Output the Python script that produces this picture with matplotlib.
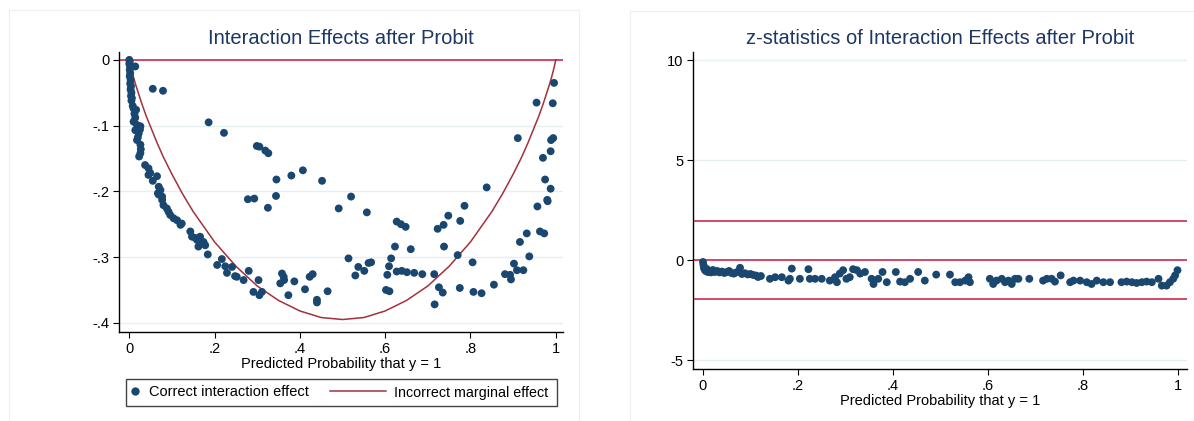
import matplotlib
matplotlib.use('Agg')
import matplotlib.pyplot as plt
from matplotlib.lines import Line2D
from matplotlib.patches import Rectangle

plt.rcParams['font.family'] = ['Liberation Sans', 'DejaVu Sans']

# ----------------------------------------------
# dados

# painel 1: efeito de interação correto (prob. prevista, efeito)
p_ie = [0.000, 0.001, 0.000, 0.002, 0.001, 0.014, 0.002, 0.001, 0.003, 0.002,
        0.004, 0.003, 0.005, 0.004, 0.006, 0.005, 0.008, 0.010, 0.016, 0.012,
        0.014, 0.010, 0.018, 0.026, 0.014, 0.022, 0.025, 0.020, 0.018, 0.026,
        0.027, 0.026, 0.023, 0.055, 0.079, 0.037, 0.045, 0.049, 0.045, 0.065,
        0.055, 0.069, 0.073, 0.067, 0.077, 0.069, 0.077, 0.080, 0.088, 0.092,
        0.096, 0.104, 0.112, 0.120, 0.123, 0.143, 0.147, 0.155, 0.159, 0.162,
        0.166, 0.174, 0.178, 0.184, 0.206, 0.217, 0.225, 0.229, 0.241, 0.248,
        0.252, 0.268, 0.280, 0.291, 0.303, 0.305, 0.311, 0.186, 0.222, 0.299,
        0.305, 0.319, 0.326, 0.278, 0.293, 0.325, 0.345, 0.380, 0.407, 0.452,
        0.344, 0.520, 0.491, 0.557, 0.627, 0.637, 0.648, 0.623, 0.660, 0.514,
        0.614, 0.537, 0.561, 0.567, 0.609, 0.551, 0.530, 0.627, 0.639, 0.651,
        0.668, 0.605, 0.602, 0.610, 0.358, 0.362, 0.354, 0.363, 0.387, 0.373,
        0.412, 0.423, 0.430, 0.440, 0.440, 0.465, 0.996, 0.955, 0.993, 0.911,
        0.989, 0.994, 0.988, 0.970, 0.975, 0.988, 0.838, 0.980, 0.786, 0.748,
        0.776, 0.723, 0.737, 0.738, 0.770, 0.805, 0.687, 0.715, 0.726, 0.735,
        0.716, 0.775, 0.807, 0.826, 0.855, 0.881, 0.893, 0.895, 0.902, 0.909,
        0.924, 0.938, 0.916, 0.932, 0.963, 0.973, 0.957, 0.981]
ie = [0.000, -0.003, -0.006, -0.010, -0.015, -0.010, -0.020, -0.025, -0.030, -0.036,
      -0.040, -0.045, -0.050, -0.055, -0.058, -0.062, -0.070, -0.074, -0.076, -0.082,
      -0.088, -0.094, -0.099, -0.101, -0.107, -0.112, -0.106, -0.118, -0.122, -0.129,
      -0.136, -0.142, -0.147, -0.044, -0.047, -0.160, -0.165, -0.172, -0.175, -0.177,
      -0.184, -0.193, -0.198, -0.203, -0.208, -0.205, -0.213, -0.221, -0.226, -0.231,
      -0.236, -0.241, -0.244, -0.251, -0.249, -0.261, -0.269, -0.271, -0.274, -0.284,
      -0.269, -0.277, -0.282, -0.296, -0.312, -0.303, -0.314, -0.324, -0.315, -0.329,
      -0.330, -0.335, -0.321, -0.353, -0.335, -0.358, -0.353, -0.095, -0.111, -0.131,
      -0.132, -0.138, -0.142, -0.212, -0.211, -0.225, -0.182, -0.176, -0.168, -0.184,
      -0.207, -0.208, -0.226, -0.232, -0.246, -0.250, -0.254, -0.284, -0.288, -0.302,
      -0.302, -0.315, -0.309, -0.308, -0.314, -0.321, -0.328, -0.322, -0.321, -0.323,
      -0.324, -0.327, -0.350, -0.352, -0.325, -0.330, -0.340, -0.335, -0.337, -0.358,
      -0.349, -0.330, -0.326, -0.365, -0.369, -0.352, -0.035, -0.065, -0.066, -0.119,
      -0.122, -0.119, -0.139, -0.149, -0.182, -0.196, -0.194, -0.213, -0.222, -0.237,
      -0.245, -0.257, -0.251, -0.284, -0.297, -0.308, -0.326, -0.326, -0.346, -0.354,
      -0.372, -0.347, -0.353, -0.355, -0.342, -0.326, -0.327, -0.334, -0.310, -0.320,
      -0.320, -0.299, -0.277, -0.264, -0.261, -0.264, -0.223, -0.215]

# painel 1: efeito marginal incorreto (curva)
p_me = [0.000, 0.001, 0.003, 0.006, 0.010, 0.015, 0.020, 0.030, 0.040, 0.050,
        0.065, 0.080, 0.100, 0.125, 0.150, 0.200, 0.250, 0.300, 0.350, 0.400,
        0.450, 0.500, 0.550, 0.600, 0.650, 0.700, 0.750, 0.800, 0.850, 0.875,
        0.900, 0.920, 0.935, 0.950, 0.960, 0.970, 0.980, 0.985, 0.990, 0.994,
        0.997, 0.999, 1.000]
me = [0.000, -0.003, -0.009, -0.017, -0.027, -0.038, -0.048, -0.068, -0.086, -0.102,
      -0.126, -0.148, -0.174, -0.204, -0.231, -0.277, -0.314, -0.344, -0.366, -0.382,
      -0.392, -0.395, -0.392, -0.382, -0.366, -0.344, -0.314, -0.277, -0.231, -0.204,
      -0.174, -0.148, -0.126, -0.102, -0.086, -0.068, -0.048, -0.038, -0.027, -0.017,
      -0.009, -0.003, 0.000]

# painel 2: estatística z (prob. prevista, z)
p_z = [0.000, 0.001, 0.002, 0.004, 0.006, 0.008, 0.010, 0.013, 0.017, 0.021,
       0.025, 0.030, 0.035, 0.040, 0.045, 0.050, 0.055, 0.060, 0.065, 0.070,
       0.078, 0.082, 0.088, 0.094, 0.100, 0.106, 0.112, 0.116, 0.122, 0.141,
       0.152, 0.166, 0.180, 0.187, 0.183, 0.204, 0.222, 0.225, 0.236, 0.250,
       0.267, 0.282, 0.278, 0.288, 0.295, 0.302, 0.309, 0.316, 0.324, 0.331,
       0.341, 0.355, 0.359, 0.369, 0.378, 0.387, 0.406, 0.415, 0.425, 0.436,
       0.453, 0.467, 0.491, 0.520, 0.531, 0.541, 0.552, 0.562, 0.559, 0.604,
       0.611, 0.618, 0.629, 0.636, 0.643, 0.650, 0.657, 0.664, 0.687, 0.716,
       0.724, 0.734, 0.741, 0.753, 0.773, 0.780, 0.794, 0.808, 0.818, 0.829,
       0.843, 0.857, 0.881, 0.892, 0.903, 0.913, 0.924, 0.934, 0.945, 0.959,
       0.966, 0.976, 0.983, 0.990, 0.994, 0.999]
z = [-0.10, -0.25, -0.40, -0.50, -0.55, -0.45, -0.60, -0.55, -0.62, -0.50,
     -0.60, -0.55, -0.62, -0.58, -0.65, -0.60, -0.55, -0.65, -0.68, -0.62,
     -0.39, -0.70, -0.66, -0.72, -0.70, -0.75, -0.78, -0.85, -0.80, -0.94,
     -0.86, -0.86, -1.03, -0.43, -0.94, -0.94, -0.46, -0.94, -0.94, -0.94,
     -1.03, -1.11, -0.86, -0.68, -0.51, -0.94, -0.86, -0.46, -0.51, -0.68,
     -0.60, -0.94, -1.20, -0.94, -0.60, -1.11, -0.60, -1.08, -1.11, -0.94,
     -0.60, -1.03, -0.73, -0.73, -1.11, -1.11, -1.03, -1.11, -0.86, -0.94,
     -1.20, -1.03, -0.94, -1.11, -1.03, -1.20, -0.94, -0.94, -0.94, -1.03,
     -0.94, -0.94, -1.08, -0.77, -1.11, -1.03, -1.03, -1.11, -1.20, -1.03,
     -1.11, -1.11, -1.11, -1.08, -1.11, -1.15, -1.11, -1.08, -1.11, -0.94,
     -1.28, -1.28, -1.11, -0.94, -0.77, -0.51]

z_crit = [1.96, 0.0, -1.96]

xticks = [0, 0.2, 0.4, 0.6, 0.8, 1]
xticklabels = ['0', '.2', '.4', '.6', '.8', '1']
yticks1 = [0, -0.1, -0.2, -0.3, -0.4]
yticklabels1 = ['0', '-.1', '-.2', '-.3', '-.4']
yticks2 = [10, 5, 0, -5]
yticklabels2 = ['10', '5', '0', '-5']

# ----------------------------------------------
# estilo

azul = '#1a476f'
titulo_cor = '#1c3763'
vermelho = '#cd2a4b'
vinho = '#a2313d'
grade = '#e6eff1'

fig = plt.figure(figsize=(11.94, 4.21), dpi=100)

# bordas suaves das regiões dos gráficos
for (x0, y0, x1, y1) in [(9, 10, 579, 421), (630, 11, 1194, 421)]:
    fig.patches.append(Rectangle((x0 / 1194, 1 - y1 / 421), (x1 - x0) / 1194, (y1 - y0) / 421,
                                 transform=fig.transFigure, fill=False,
                                 edgecolor='#eeeeee', lw=0.8, zorder=0))


def eixo(ax, titulo, yticks, ylabels):
    ax.set_title(titulo, color=titulo_cor, fontsize=14.5, pad=6)
    ax.set_xlabel('Predicted Probability that y = 1', fontsize=10.5, labelpad=1)
    ax.set_xticks(xticks)
    ax.set_xticklabels(xticklabels)
    ax.set_yticks(yticks)
    ax.set_yticklabels(ylabels)
    ax.tick_params(direction='out', length=4, width=0.8, labelsize=10.5, pad=3)
    for s in ['top', 'right']:
        ax.spines[s].set_visible(False)
    for s in ['left', 'bottom']:
        ax.spines[s].set_linewidth(1.0)
    for t in yticks:
        ax.axhline(t, color=grade, lw=1, zorder=0)


# painel 1
ax1 = fig.add_axes([119.5 / 1194, 1 - 332 / 421, (563 - 119.5) / 1194, 280 / 421])
eixo(ax1, 'Interaction Effects after Probit', yticks1, yticklabels1)
ax1.set_xlim(-0.023, 1.017)
ax1.set_ylim(-0.414, 0.012)
ax1.axhline(0, color=vermelho, lw=1.2, zorder=2)
ax1.plot(p_me, me, color=vinho, lw=1.1, zorder=2)
ax1.scatter(p_ie, ie, s=32, color=azul, edgecolors='none', zorder=3)

# painel 2
ax2 = fig.add_axes([693 / 1194, 1 - 369 / 421, (1187 - 693) / 1194, 317 / 421])
eixo(ax2, 'z-statistics of Interaction Effects after Probit', yticks2, yticklabels2)
ax2.set_xlim(-0.021, 1.019)
ax2.set_ylim(-5.45, 10.4)
for zc in z_crit:
    ax2.axhline(zc, color=vermelho, lw=1.2, zorder=2)
ax2.scatter(p_z, z, s=32, color=azul, edgecolors='none', zorder=3)

# legenda (caixa desenhada à parte para imitar o Stata)
fig.patches.append(Rectangle((126 / 1194, 1 - 406 / 421), 431 / 1194, 27 / 421,
                             transform=fig.transFigure, facecolor='white',
                             edgecolor='#444444', lw=1.0, zorder=1))
ponto = Line2D([], [], ls='none', marker='o', markersize=6, color=azul, markeredgewidth=0)
linha = Line2D([], [], color=vinho, lw=1.1)
yl = 1 - 392.5 / 421
fig.legend([ponto], ['Correct interaction effect'], loc='center left',
           bbox_to_anchor=(130 / 1194, yl), frameon=False, handlelength=0.7,
           handletextpad=0.6, borderpad=0, borderaxespad=0, fontsize=10.5)
fig.legend([linha], ['Incorrect marginal effect'], loc='center left',
           bbox_to_anchor=(330 / 1194, yl), frameon=False, handlelength=3.9,
           handletextpad=0.6, borderpad=0, borderaxespad=0, fontsize=10.3)

plt.savefig('out.png', dpi=100)
